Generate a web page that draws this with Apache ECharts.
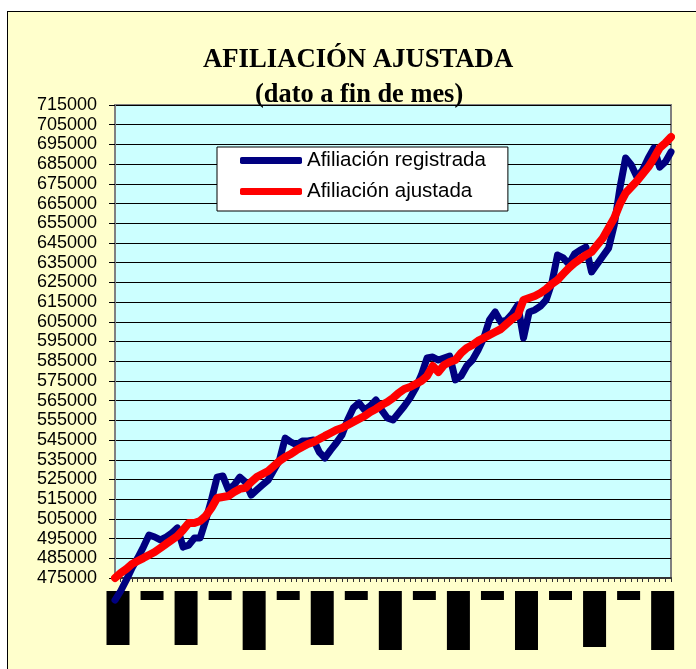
<!DOCTYPE html>
<html>
<head>
<meta charset="utf-8">
<script src="https://cdn.jsdelivr.net/npm/echarts@6/dist/echarts.min.js"></script>
<style>
html, body { margin: 0; padding: 0; background: #fff; }
body { position: relative; width: 696px; height: 669px; overflow: hidden; }
#frame { position: absolute; left: 7px; top: 11px; width: 720px; height: 700px; background: #ffffcc; border: 1px solid #000; }
#chart { position: absolute; left: 0; top: 0; width: 696px; height: 669px; }
</style>
</head>
<body>
<div id="frame"></div>
<div id="chart"></div>
<script>
// meses (fin de mes)
var meses = [
  'ene-98','feb-98','mar-98','abr-98','may-98','jun-98','jul-98','ago-98','sep-98','oct-98','nov-98','dic-98',
  'ene-99','feb-99','mar-99','abr-99','may-99','jun-99','jul-99','ago-99','sep-99','oct-99','nov-99','dic-99',
  'ene-00','feb-00','mar-00','abr-00','may-00','jun-00','jul-00','ago-00','sep-00','oct-00','nov-00','dic-00',
  'ene-01','feb-01','mar-01','abr-01','may-01','jun-01','jul-01','ago-01','sep-01','oct-01','nov-01','dic-01',
  'ene-02','feb-02','mar-02','abr-02','may-02','jun-02','jul-02','ago-02','sep-02','oct-02','nov-02','dic-02',
  'ene-03','feb-03','mar-03','abr-03','may-03','jun-03','jul-03','ago-03','sep-03','oct-03','nov-03','dic-03',
  'ene-04','feb-04','mar-04','abr-04','may-04','jun-04','jul-04','ago-04','sep-04','oct-04','nov-04','dic-04',
  'ene-05','feb-05','mar-05','abr-05','may-05','jun-05','jul-05','ago-05','sep-05','oct-05','nov-05','dic-05',
  'ene-06','feb-06','mar-06'
];

var registrada = [
  463800, 468400, 474000, 480100, 485100, 490700, 496800, 495800, 494300, 495800,
  497800, 500400, 490700, 491700, 495300, 495300, 504400, 514600, 526200, 526800,
  519700, 522200, 526200, 523700, 517100, 519700, 522200, 524700, 529800, 534900,
  546000, 544000, 542500, 544500, 544500, 545000, 538900, 535900, 539900, 543500,
  547600, 555200, 561300, 563800, 560200, 562300, 565300, 560200, 556200, 555200,
  558700, 562300, 566300, 571400, 578000, 586600, 587100, 585600, 586600, 587600,
  575500, 577500, 582600, 585600, 590700, 596800, 605900, 610000, 604900, 605900,
  609000, 613500, 596800, 610000, 611000, 613000, 616100, 624700, 638900, 637400,
  634300, 639400, 641400, 642900, 630300, 634300, 638400, 642400, 654100, 672900,
  688100, 684600, 678500, 682000, 688100, 693200, 683500, 686100, 691200
];

var ajustada = [
  475000, 477500, 479600, 482100, 483600, 485100, 486700, 488200, 490200, 492300,
  494300, 496300, 499400, 502900, 502900, 503900, 506500, 510500, 515600, 516100,
  516600, 518600, 520200, 520700, 523700, 526200, 527800, 529300, 531800, 534400,
  536400, 537900, 539900, 541500, 543000, 544000, 545500, 547100, 548600, 550100,
  551100, 552600, 554200, 555700, 557200, 559200, 560800, 562800, 564300, 566300,
  568900, 570900, 571900, 573400, 575000, 577500, 582600, 579500, 583100, 584600,
  585600, 589200, 591700, 593200, 595300, 596800, 598300, 599800, 601300, 603900,
  606400, 608400, 616100, 617100, 618100, 619600, 621600, 624200, 626200, 629300,
  632300, 634800, 636900, 638900, 640400, 644000, 647500, 652600, 657700, 664800,
  670300, 673400, 676400, 680000, 683500, 688100, 693200, 695700, 698800
];

// las etiquetas del eje X salen como bloques negros en el original
var bloques = ['a','s','a','s','b','s','a','s','b','s','b','s','b','s','c','s','b'];

var myChart = echarts.init(document.getElementById('chart'));

myChart.setOption({
  animation: false,
  backgroundColor: 'transparent',
  title: [
    {
      text: 'AFILIACIÓN AJUSTADA',
      left: 203,
      top: 47,
      padding: 0,
      textStyle: { fontFamily: 'Liberation Serif', fontWeight: 'bold', fontSize: 26.7, color: '#000' }
    },
    {
      text: '(dato a fin de mes)',
      left: 255,
      top: 82,
      padding: 0,
      textStyle: { fontFamily: 'Liberation Serif', fontWeight: 'bold', fontSize: 26.4, color: '#000' }
    }
  ],
  legend: {
    data: ['Afiliación registrada', 'Afiliación ajustada'],
    orient: 'vertical',
    left: 217,
    top: 147,
    backgroundColor: '#fff',
    borderColor: '#000',
    borderWidth: 1,
    padding: [3, 22, 9, 23],
    itemWidth: 62,
    itemHeight: 7,
    itemGap: 10,
    icon: 'roundRect',
    textStyle: { fontFamily: 'Liberation Sans', fontSize: 20.5, color: '#000' }
  },
  grid: {
    show: true,
    left: 115,
    right: 25,
    top: 105,
    bottom: 91,
    backgroundColor: '#ccffff',
    borderColor: '#808080',
    borderWidth: 2
  },
  xAxis: {
    type: 'category',
    data: meses,
    boundaryGap: false,
    axisLine: { lineStyle: { color: '#333', width: 2 } },
    axisTick: { show: true, interval: 0, length: 4, lineStyle: { color: '#333' } },
    splitLine: { show: false },
    axisLabel: {
      interval: 5,
      margin: 13,
      padding: [0, 0, 0, 6],
      formatter: function (v, idx) {
        return '{' + bloques[idx / 6] + '|}';
      },
      rich: {
        a: { width: 23, height: 54, backgroundColor: '#000' },
        b: { width: 23, height: 59, backgroundColor: '#000' },
        c: { width: 23, height: 56, backgroundColor: '#000' },
        s: { width: 23, height: 9, backgroundColor: '#000' }
      }
    }
  },
  yAxis: {
    type: 'value',
    min: 475000,
    max: 715000,
    interval: 10000,
    axisLine: { show: true, lineStyle: { color: '#808080', width: 2 } },
    axisTick: { show: true, length: 6, lineStyle: { color: '#000' } },
    splitLine: { show: true, lineStyle: { color: '#000', width: 1 } },
    axisLabel: {
      fontFamily: 'Liberation Sans',
      fontSize: 18,
      color: '#000',
      margin: 18,
      formatter: function (v) { return String(v); }
    }
  },
  series: [
    {
      name: 'Afiliación registrada',
      type: 'line',
      data: registrada,
      showSymbol: false,
      clip: false,
      itemStyle: { color: '#000080' },
      lineStyle: { color: '#000080', width: 7, cap: 'round', join: 'round' }
    },
    {
      name: 'Afiliación ajustada',
      type: 'line',
      data: ajustada,
      showSymbol: false,
      clip: false,
      itemStyle: { color: '#ff0000' },
      lineStyle: { color: '#ff0000', width: 8, cap: 'round', join: 'round' }
    }
  ]
});
</script>
</body>
</html>
